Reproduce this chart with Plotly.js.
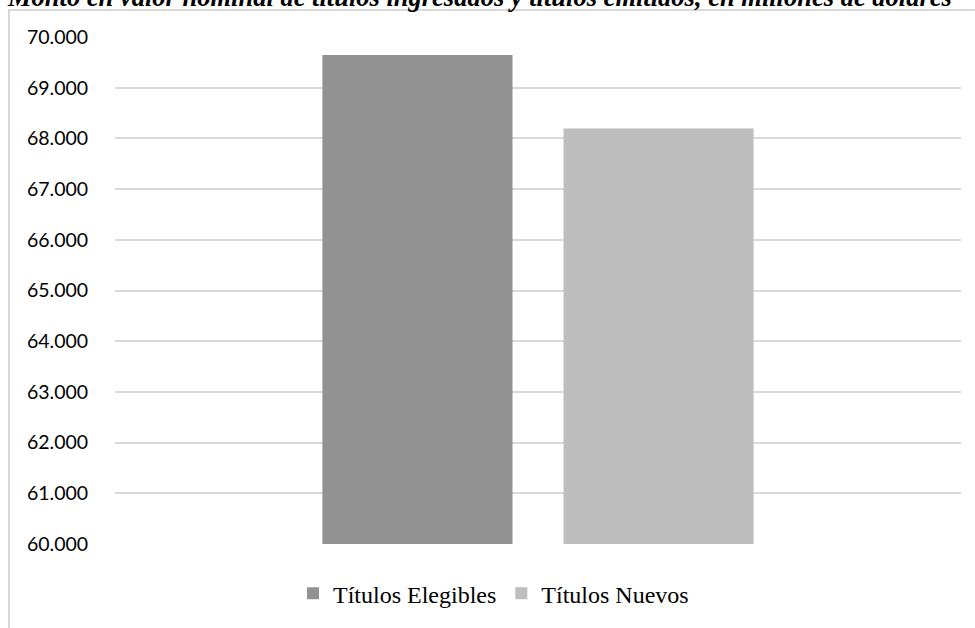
<!DOCTYPE html>
<html>
<head>
<meta charset="utf-8">
<script src="https://cdn.plot.ly/plotly-3.0.1.min.js"></script>
<style>
  html, body { margin: 0; padding: 0; background: #ffffff; }
  #wrap { position: relative; width: 975px; height: 628px; overflow: hidden; }
  #frame { position: absolute; left: 8px; top: 9px; width: 1100px; height: 800px;
           border-left: 2px solid #d9d9d9; border-top: 2px solid #d9d9d9; box-sizing: border-box; }
  #chart { position: absolute; left: 0; top: 0; width: 975px; height: 628px; }
</style>
</head>
<body>
<div id="wrap">
  <div id="frame"></div>
  <div id="chart"></div>
</div>
<script>
// Monto nominal, en millones de dólares
const categorias = ["Monto"];
const series = ["Títulos Elegibles", "Títulos Nuevos"];
const elegibles = [69647];
const nuevos = [68196];
const colores = ["#929292", "#bebebe"];
const tickVals = [60000, 61000, 62000, 63000, 64000, 65000, 66000, 67000, 68000, 69000, 70000];
const titulo = "Monto en valor nominal de títulos ingresados y títulos emitidos, en millones de dólares";

const traces = [
  { type: "bar", name: series[0], x: categorias, y: elegibles, marker: { color: colores[0] }, hoverinfo: "y+name" },
  { type: "bar", name: series[1], x: categorias, y: nuevos, marker: { color: colores[1] }, hoverinfo: "y+name" }
];

const layout = {
  width: 975,
  height: 628,
  margin: { l: 115, r: 14, t: 37, b: 81 },
  paper_bgcolor: "rgba(0,0,0,0)",
  plot_bgcolor: "rgba(0,0,0,0)",
  separators: ",.",
  barmode: "group",
  bargap: 0.43,
  bargroupgap: 0.2116,
  // chart heading sits at the very top edge of the page
  annotations: [{
    text: "<b><i>" + titulo + "</i></b>",
    font: { family: "Liberation Serif", size: 26.5, color: "#000000" },
    xref: "paper", x: 0.4314, xanchor: "center",
    yref: "paper", y: 1.078, yanchor: "middle",
    showarrow: false
  }],
  xaxis: {
    showticklabels: false,
    showgrid: false,
    zeroline: false,
    showline: false,
    ticks: ""
  },
  yaxis: {
    range: [60000, 70000],
    tickvals: tickVals,
    tickformat: ",.0f",
    showgrid: true,
    gridcolor: "#d9d9d9",
    gridwidth: 1.5,
    zeroline: false,
    showline: false,
    ticks: "outside",
    ticklen: 22,
    tickcolor: "rgba(0,0,0,0)",
    tickfont: { family: "Lato", size: 19.5, color: "#000000" }
  },
  showlegend: true,
  legend: {
    orientation: "h",
    xref: "paper", x: 0.2104, xanchor: "left",
    yref: "paper", y: -0.098, yanchor: "middle",
    font: { family: "Liberation Serif", size: 24, color: "#000000" },
    itemwidth: 30,
    traceorder: "normal",
    bgcolor: "rgba(0,0,0,0)"
  }
};

Plotly.newPlot("chart", traces, layout, { displayModeBar: false });
</script>
</body>
</html>
